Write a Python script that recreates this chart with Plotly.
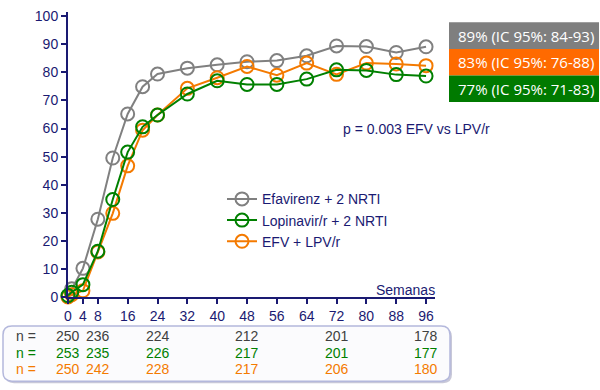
import plotly.graph_objects as go

# ---------------- data ----------------
weeks = [0, 1, 4, 8, 12, 16, 20, 24, 32, 40, 48, 56, 64, 72, 80, 88, 96]
efv = [0.3, 2.9, 10.2, 27.7, 49.5, 65.2, 74.9, 79.4, 81.5, 82.7, 83.8, 84.2, 85.9, 89.4, 89.2, 87.1, 89.1]
lpv = [0.5, 1.7, 4.4, 16.3, 34.7, 51.6, 60.6, 64.8, 72.3, 77.0, 75.7, 75.7, 77.6, 80.9, 80.7, 79.2, 78.7]
combo = [0.0, 0.8, 2.2, 16.0, 29.8, 46.7, 59.4, 64.8, 74.3, 78.1, 82.1, 79.0, 83.3, 79.3, 83.3, 83.0, 82.4]

series_names = ["Efavirenz + 2 NRTI", "Lopinavir/r + 2 NRTI", "EFV + LPV/r"]

x_ticks = [0, 4, 8, 16, 24, 32, 40, 48, 56, 64, 72, 80, 88, 96]
y_ticks = [0, 10, 20, 30, 40, 50, 60, 70, 80, 90, 100]

n_weeks = [0, 8, 24, 48, 72, 96]
n_efv = [250, 236, 224, 212, 201, 178]
n_lpv = [253, 235, 226, 217, 201, 177]
n_combo = [250, 242, 228, 217, 206, 180]

ci_labels = ["89% (IC 95%: 84-93)", "83% (IC 95%: 76-88)", "77% (IC 95%: 71-83)"]
p_label = "p = 0.003 EFV vs LPV/r"

# ---------------- styling ----------------
GRAY = "#808080"
GREEN = "#008000"
ORANGE = "#F47A00"
NAVY = "#1A1A72"
BOX_GRAY = "#7F7F7F"
BOX_ORANGE = "#FF6A00"
BOX_GREEN = "#007A00"

W, H = 600, 390
L, R, T, B = 68, 165, 8, 92.5
PW = W - L - R
PH = H - T - B


def px(xp):
    return (xp - L) / PW


def py(yp):
    return (T + PH - yp) / PH


fig = go.Figure()
for name, ys, col in [(series_names[0], efv, GRAY),
                      (series_names[2], combo, ORANGE),
                      (series_names[1], lpv, GREEN)]:
    fig.add_trace(go.Scatter(
        x=weeks, y=ys, name=name, mode="lines+markers",
        line=dict(color=col, width=2),
        marker=dict(symbol="circle-open", size=13, color=col, line=dict(width=2, color=col)),
        cliponaxis=False,
    ))

shapes = []
annotations = []

# CI boxes
box_cols = [BOX_GRAY, BOX_ORANGE, BOX_GREEN]
top = 18.5
hbox = 27
for i, (lab, c) in enumerate(zip(ci_labels, box_cols)):
    y0 = top + i * hbox
    shapes.append(dict(type="rect", xref="paper", yref="paper",
                       x0=px(449), x1=px(599), y0=py(y0 + hbox), y1=py(y0),
                       fillcolor=c, line=dict(width=0), layer="above"))
    annotations.append(dict(xref="paper", yref="paper", x=px(456), y=py(y0 + hbox / 2),
                            text=lab, showarrow=False, xanchor="left", yanchor="middle",
                            font=dict(family="Open Sans, sans-serif", size=15, color="white")))

annotations.append(dict(xref="paper", yref="paper", x=px(416), y=py(127), text=p_label,
                        showarrow=False, xanchor="center", yanchor="middle",
                        font=dict(family="Liberation Sans, Arial", size=14, color=NAVY)))

annotations.append(dict(xref="paper", yref="paper", x=px(437), y=py(290), text="Semanas",
                        showarrow=False, xanchor="right", yanchor="middle",
                        font=dict(family="Liberation Sans, Arial", size=14, color=NAVY)))

# n table box (rounded)
x0b, x1b, y0b, y1b, r = 3, 450, 327, 383, 9


def rounded(x0, x1, y0, y1, r):
    return (f"M {px(x0 + r)} {py(y0)} L {px(x1 - r)} {py(y0)} "
            f"Q {px(x1)} {py(y0)} {px(x1)} {py(y0 + r)} "
            f"L {px(x1)} {py(y1 - r)} Q {px(x1)} {py(y1)} {px(x1 - r)} {py(y1)} "
            f"L {px(x0 + r)} {py(y1)} Q {px(x0)} {py(y1)} {px(x0)} {py(y1 - r)} "
            f"L {px(x0)} {py(y0 + r)} Q {px(x0)} {py(y0)} {px(x0 + r)} {py(y0)} Z")


shapes.append(dict(type="path", xref="paper", yref="paper", path=rounded(x0b + 2, x1b + 2, y0b + 2, y1b + 2, r),
                   fillcolor="#C8C8D8", line=dict(width=0), layer="below"))
shapes.append(dict(type="path", xref="paper", yref="paper", path=rounded(x0b, x1b, y0b, y1b, r),
                   fillcolor="#FBFBFD", line=dict(color="#B4B8DC", width=1.5), layer="below"))

row_y = [337, 354, 371]
row_cols = ["#404040", GREEN, ORANGE]
for ry, col, vals in zip(row_y, row_cols, [n_efv, n_lpv, n_combo]):
    annotations.append(dict(xref="paper", yref="paper", x=px(14), y=py(ry), text="n =",
                            showarrow=False, xanchor="left", yanchor="middle",
                            font=dict(family="Liberation Sans, Arial", size=14, color=col)))
    for wk, v in zip(n_weeks, vals):
        annotations.append(dict(xref="x", yref="paper", x=wk, y=py(ry), text=str(v),
                                showarrow=False, xanchor="center", yanchor="middle",
                                font=dict(family="Liberation Sans, Arial", size=14, color=col)))

fig.update_layout(
    width=W, height=H,
    margin=dict(l=L, r=R, t=T, b=B, pad=0),
    paper_bgcolor="white", plot_bgcolor="white",
    font=dict(family="Liberation Sans, Arial", size=14, color=NAVY),
    showlegend=True,
    legend=dict(x=px(222), y=py(182), xanchor="left", yanchor="top",
                bgcolor="rgba(0,0,0,0)", font=dict(size=14, color=NAVY),
                traceorder="normal", itemwidth=30, tracegroupgap=0),
    xaxis=dict(range=[0, 98.4], tickvals=x_ticks, showgrid=False, zeroline=False,
               showline=True, linecolor=NAVY, linewidth=2, ticks="outside",
               ticklen=5, tickwidth=2, tickcolor=NAVY,
               tickfont=dict(size=14, color=NAVY)),
    yaxis=dict(range=[0, 101.5], tickvals=y_ticks, showgrid=False, zeroline=False,
               showline=True, linecolor=NAVY, linewidth=2, ticks="outside",
               ticklen=5, tickwidth=2, tickcolor=NAVY,
               tickfont=dict(size=14, color=NAVY)),
    shapes=shapes, annotations=annotations,
)

# legend order: EFV, LPV, combo
fig.data[1].legendrank = 3
fig.data[2].legendrank = 2
fig.data[0].legendrank = 1

fig.write_html("out.html", config={"displayModeBar": False},
               post_script="document.body.style.margin='0';document.body.style.overflow='hidden';")
